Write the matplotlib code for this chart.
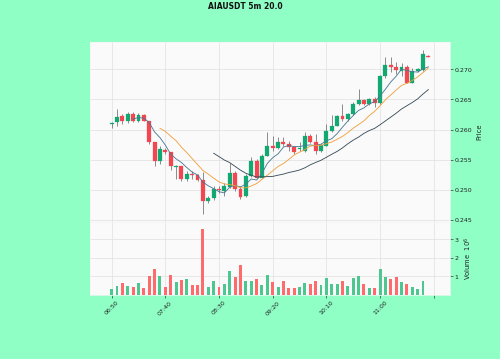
import matplotlib
matplotlib.use("Agg")
import matplotlib.pyplot as plt
import numpy as np

title = "AIAUSDT 5m 20.0"
tick_labels = ["06:50", "07:40", "08:30", "09:20", "10:10", "11:00", ""]

opens = [0.26086, 0.26122, 0.26223, 0.26144, 0.26262, 0.26144, 0.26245, 0.26136, 0.25787, 0.25478,
         0.25663, 0.25619, 0.25384, 0.25394, 0.25171, 0.25255, 0.25238, 0.25159, 0.24807, 0.24864,
         0.25015, 0.24975, 0.25049, 0.25284, 0.25015, 0.24891, 0.25226, 0.25478, 0.25200, 0.25562,
         0.25720, 0.25696, 0.25797, 0.25758, 0.25703, 0.25674, 0.25646, 0.25898, 0.25787, 0.25646,
         0.25730, 0.25982, 0.26065, 0.26223, 0.26178, 0.26262, 0.26418, 0.26497, 0.26430, 0.26513,
         0.26446, 0.26894, 0.27072, 0.27039, 0.26975, 0.27039, 0.26777, 0.26971, 0.26992, 0.27230]
highs = [0.26133, 0.26334, 0.26262, 0.26290, 0.26295, 0.26279, 0.26262, 0.26144, 0.25792, 0.25730,
         0.25686, 0.25633, 0.25406, 0.25398, 0.25310, 0.25310, 0.25255, 0.25294, 0.24891, 0.25059,
         0.25059, 0.25116, 0.25440, 0.25310, 0.25059, 0.25255, 0.25535, 0.25507, 0.25591, 0.25955,
         0.25898, 0.25871, 0.25876, 0.25814, 0.25708, 0.25792, 0.25955, 0.25926, 0.25926, 0.25758,
         0.26094, 0.26233, 0.26245, 0.26430, 0.26279, 0.26458, 0.26681, 0.26502, 0.26530, 0.26542,
         0.26904, 0.27213, 0.27213, 0.27117, 0.27101, 0.27072, 0.27017, 0.27029, 0.27324, 0.27240]
lows = [0.26022, 0.26065, 0.26094, 0.26111, 0.26122, 0.26122, 0.26136, 0.25758, 0.25394, 0.25423,
        0.25591, 0.25327, 0.25183, 0.25146, 0.25143, 0.25171, 0.25146, 0.24601, 0.24780, 0.24836,
        0.24948, 0.24891, 0.25032, 0.24975, 0.24847, 0.24877, 0.25216, 0.25188, 0.25188, 0.25552,
        0.25646, 0.25674, 0.25730, 0.25646, 0.25591, 0.25641, 0.25633, 0.25775, 0.25591, 0.25633,
        0.25720, 0.25955, 0.26055, 0.26149, 0.26149, 0.26233, 0.26401, 0.26413, 0.26413, 0.26374,
        0.26430, 0.26849, 0.26961, 0.26916, 0.26894, 0.26765, 0.26765, 0.26950, 0.26971, 0.27201]
closes = [0.26111, 0.26206, 0.26144, 0.26262, 0.26144, 0.26245, 0.26144, 0.25787, 0.25478, 0.25674,
          0.25619, 0.25394, 0.25401, 0.25171, 0.25255, 0.25238, 0.25159, 0.24807, 0.24864, 0.25015,
          0.24987, 0.25059, 0.25284, 0.25015, 0.24881, 0.25226, 0.25478, 0.25200, 0.25562, 0.25720,
          0.25696, 0.25797, 0.25763, 0.25703, 0.25619, 0.25700, 0.25898, 0.25797, 0.25646, 0.25742,
          0.25982, 0.26065, 0.26223, 0.26178, 0.26262, 0.26430, 0.26497, 0.26430, 0.26513, 0.26446,
          0.26894, 0.27067, 0.27034, 0.26983, 0.27039, 0.26777, 0.26971, 0.27005, 0.27252, 0.27206]
volumes = [310000, 490000, 670000, 500000, 450000, 650000, 360000, 1050000, 1400000, 1010000,
           450000, 1060000, 700000, 790000, 850000, 560000, 560000, 3570000, 450000, 770000,
           450000, 590000, 1310000, 990000, 1620000, 770000, 770000, 850000, 540000, 1080000,
           680000, 450000, 740000, 360000, 400000, 450000, 630000, 580000, 760000, 540000,
           940000, 610000, 580000, 760000, 490000, 900000, 1050000, 590000, 360000, 400000,
           1390000, 950000, 850000, 950000, 700000, 610000, 420000, 320000, 770000, 30000]
mav_windows = [5, 10, 20]
mav_colors = ["#4a7894", "#f0a03c", "#3a4d58"]

up_color, down_color = "#12a872", "#f24650"
vol_up, vol_down = "#4dc790", "#fd6b6c"
wick_color = "#707070"
bg = "#8fffc6"

o = np.array(opens); h = np.array(highs); l = np.array(lows); c = np.array(closes)
v = np.array(volumes) / 1e6
n = len(o)
x = np.arange(n)
up = c >= o

fig = plt.figure(figsize=(8, 5.75), dpi=62.5, facecolor=bg)
ax = fig.add_axes([0.18, 0.3816, 0.72, 0.5014])
axv = fig.add_axes([0.18, 0.1783, 0.72, 0.2033], sharex=ax)

for a in (ax, axv):
    a.set_facecolor("#fafafa")
    a.grid(True, color="#e2e2e2", linewidth=0.9)
    a.set_axisbelow(True)
    for s in a.spines.values():
        s.set_color("#f4f4f4")
    a.yaxis.tick_right()
    a.yaxis.set_label_position("right")
    a.tick_params(axis="both", labelsize=7.2, length=3.5, width=0.7, colors="#222222", pad=2)

# candles
ax.vlines(x, l, h, color=wick_color, linewidth=0.9, zorder=2)
body_bottom = np.minimum(o, c)
body_h = np.maximum(np.abs(c - o), 0.00004)
ax.bar(x, body_h, bottom=body_bottom, width=0.72,
       color=np.where(up, up_color, down_color), edgecolor=np.where(up, up_color, down_color),
       linewidth=0.3, zorder=3)

for w, col in zip(mav_windows, mav_colors):
    ma = np.convolve(c, np.ones(w) / w, mode="valid")
    ax.plot(np.arange(w - 1, n), ma, color=col, linewidth=1.0, zorder=4)

lo, hi = l.min(), h.max()
pad = 0.05 * (hi - lo)
ax.set_ylim(lo - pad, hi + pad)
ax.set_yticks([0.245, 0.250, 0.255, 0.260, 0.265, 0.270])
ax.set_yticklabels(["0.245", "0.250", "0.255", "0.260", "0.265", "0.270"])
ax.set_ylabel("Price", fontsize=7.8, color="#222222", labelpad=4)
plt.setp(ax.get_xticklabels(), visible=False)

axv.bar(x, v, width=0.55, color=np.where(up, vol_up, vol_down), zorder=3)
axv.set_ylim(0.3 * v.min(), 1.1 * v.max())
axv.set_yticks([1, 2, 3])
axv.set_yticklabels(["1", "2", "3"])
axv.set_ylabel("Volume  $10^{6}$", fontsize=7.8, color="#222222", labelpad=4)

avg = (n - 1) / n
minx, maxx = -avg, n - 1 + avg
m = 0.05 * (maxx - minx)
axv.set_xlim(minx - m, maxx + m)
axv.set_xticks(np.arange(0, 10 * len(tick_labels), 10))
axv.set_xticklabels(tick_labels, rotation=45, ha="center")

fig.text(0.49, 0.982, title, ha="center", va="center", fontsize=8.8, fontweight="bold", color="#111111")

fig.savefig("out.png", dpi=62.5, facecolor=bg)
